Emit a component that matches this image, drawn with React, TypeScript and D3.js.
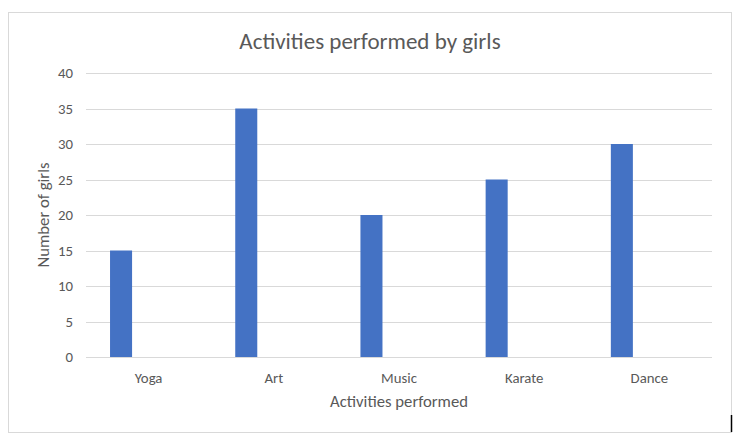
import React from "react";
import * as d3 from "d3";

const categories = ["Yoga", "Art", "Music", "Karate", "Dance"];
const girls = [15, 35, 20, 25, 30];
const yTicks = [0, 5, 10, 15, 20, 25, 30, 35, 40];

export default function App() {
  const W = 743, H = 445;
  const left = 86, right = 712, top = 73, bottom = 357;
  const x = d3.scaleBand<string>().domain(categories).range([left, right]).padding(0);
  const y = d3.scaleLinear().domain([0, 40]).range([bottom, top]);
  const bw = x.bandwidth();
  const barOff = bw * 0.192;
  const barW = bw * 0.176;
  const font = "Calibri, Carlito, 'Open Sans', sans-serif";
  const grey = "#595959";
  return (
    <svg width={W} height={H} style={{ position: "absolute", left: 0, top: 0 }}>
      <rect x={0} y={0} width={W} height={H} fill="#fff" />
      <rect x={8.5} y={12.5} width={723} height={420} fill="#fff" stroke="#d9d9d9" strokeWidth={1} />
      <text x={370} y={49} textAnchor="middle" fontFamily={font} fontSize={23} fill={grey}>
        Activities performed by girls
      </text>
      {yTicks.map((t) => (
        <g key={t}>
          <line x1={left} x2={right} y1={Math.round(y(t)) + 0.5} y2={Math.round(y(t)) + 0.5} stroke="#d9d9d9" strokeWidth={1} />
          <text x={73} y={y(t) + 5} textAnchor="end" fontFamily={font} fontSize={14.8} fill={grey}>
            {t}
          </text>
        </g>
      ))}
      {categories.map((c, i) => (
        <g key={c}>
          <rect x={x(c)! + barOff} y={y(girls[i])} width={barW} height={y(0) - y(girls[i])} fill="#4472C4" />
          <text x={x(c)! + bw / 2} y={383} textAnchor="middle" fontFamily={font} fontSize={14.8} fill={grey}>
            {c}
          </text>
        </g>
      ))}
      <text x={(left + right) / 2} y={407} textAnchor="middle" fontFamily={font} fontSize={16.7} fill={grey}>
        Activities performed
      </text>
      <text transform={`translate(49,${(top + bottom) / 2}) rotate(-90)`} textAnchor="middle" fontFamily={font} fontSize={16.7} fill={grey}>
        Number of girls
      </text>
      <line x1={731.5} x2={731.5} y1={415} y2={432} stroke="#000" strokeWidth={1.5} />
    </svg>
  );
}
